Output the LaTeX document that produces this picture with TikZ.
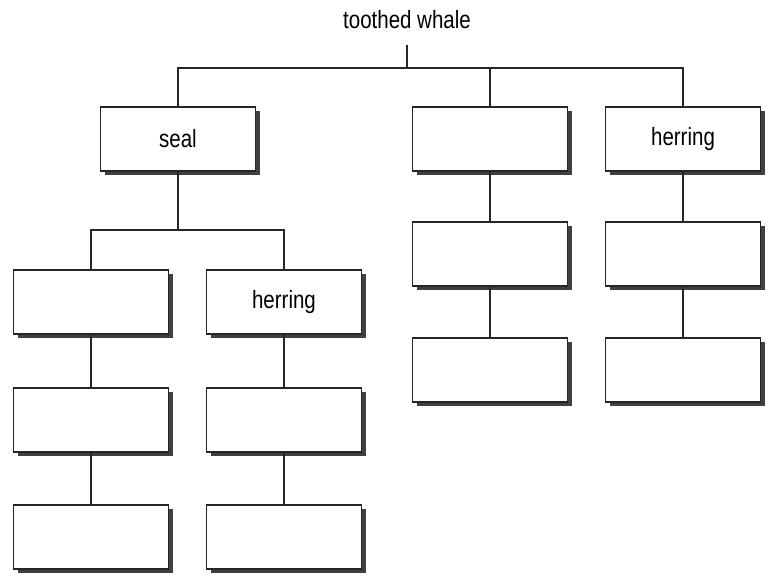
\documentclass[tikz,border=0pt]{standalone}
\usepackage{fontspec}
\setmainfont{Liberation Sans}[FakeStretch=0.82]
\usetikzlibrary{shadows}
\begin{document}
\begin{tikzpicture}[x=1pt,y=-1pt,
  box/.style={draw=black!85, line width=1.3pt, fill=white,
    minimum width=155pt, minimum height=64pt, inner sep=0pt,
    drop shadow={shadow xshift=4pt, shadow yshift=-4pt, fill=black!75, opacity=1},
    font=\fontsize{25}{30}\selectfont},
  title/.style={inner sep=0pt, minimum height=50pt, font=\fontsize{25}{30}\selectfont},
  link/.style={line width=2.4pt, draw=black!85}]
\useasboundingbox (0,0) rectangle (770,577);

% title
\node[title] (root) at (407,20) {toothed whale};
\coordinate (rootbus) at (407,68);

% top row
\node[box] (seal) at (178,139) {seal};
\node[box] (mA)   at (490,139) {};
\node[box] (rA)   at (683,139) {herring};

% left subtree
\coordinate (sbus) at (178,230);
\node[box] (LB) at (91,302)  {};
\node[box] (RB) at (284,302) {herring};
\node[box] (LC) at (91,420)  {};
\node[box] (RC) at (284,420) {};
\node[box] (LD) at (91,537)  {};
\node[box] (RD) at (284,537) {};

% middle and right columns
\node[box] (mB) at (490,254) {};
\node[box] (mC) at (490,370) {};
\node[box] (rB) at (683,254) {};
\node[box] (rC) at (683,370) {};

% connectors
\draw[link] (root.south) -- (rootbus);
\draw[link] (seal.north) |- (rA.north |- rootbus) -- (rA.north);
\draw[link] (mA.north) -- (mA.north |- rootbus);

\draw[link] (seal.south) -- (sbus);
\draw[link] (LB.north) |- (RB.north |- sbus) -- (RB.north);

\draw[link] (LB.south) -- (LC.north);
\draw[link] (LC.south) -- (LD.north);
\draw[link] (RB.south) -- (RC.north);
\draw[link] (RC.south) -- (RD.north);
\draw[link] (mA.south) -- (mB.north);
\draw[link] (mB.south) -- (mC.north);
\draw[link] (rA.south) -- (rB.north);
\draw[link] (rB.south) -- (rC.north);
\end{tikzpicture}
\end{document}
